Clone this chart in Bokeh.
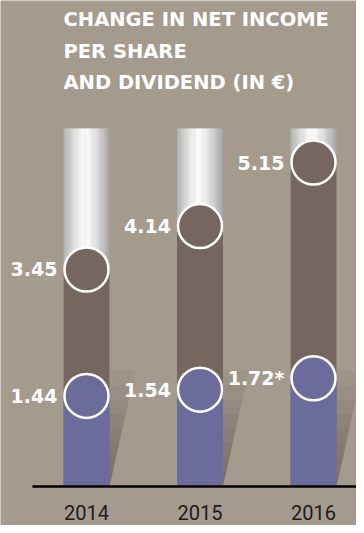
from bokeh.plotting import figure
from bokeh.models import Range1d, Label
from bokeh.core.properties import value
from bokeh.embed import file_html
from bokeh.resources import INLINE

# ---------------- data ----------------
YEARS = ["2014", "2015", "2016"]
NET_INCOME = [3.45, 4.14, 5.15]
DIVIDEND = [1.44, 1.54, 1.72]
NI_LABELS = ["3.45", "4.14", "5.15"]
DIV_LABELS = ["1.44", "1.54", "1.72*"]
TITLE_LINES = ["CHANGE IN NET INCOME", "PER SHARE", "AND DIVIDEND (IN \u20ac)"]

# ---------------- style / layout ----------------
W, H = 356, 525
BG = "#a49b8e"
BROWN = "#75675f"
PURPLE = "#6b6c9c"
PX_X = 113.5          # pixels per category step
FIRST_X_PX = 86       # pixel position of first category centre
PX_Y = 62.9           # pixels per euro
BASE_PX = 39          # baseline distance from figure bottom
BAR_W = 46 / PX_X
TRACK_TOP = 358 / PX_Y      # height of the grey "tube"
WEDGE_H = 116 / PX_Y
WEDGE_W = 26 / PX_X

xs = list(range(len(YEARS)))

p = figure(width=W, height=H, output_backend="svg", toolbar_location=None,
           x_range=Range1d(-FIRST_X_PX / PX_X, (W - FIRST_X_PX) / PX_X),
           y_range=Range1d(-BASE_PX / PX_Y, (H - BASE_PX) / PX_Y),
           min_border=0)
p.axis.visible = False
p.grid.visible = False
p.outline_line_color = None
p.background_fill_color = BG
p.border_fill_color = BG

# grey tube gradient (horizontal)
N = 40
left_s, right_s, top_s, col_s = [], [], [], []
for x in xs:
    l0 = x - BAR_W / 2
    step = BAR_W / N
    for k in range(N):
        t = (k + 0.5) / N
        d = min(1.0, abs(t - 0.47) / 0.53)
        lev = int(round(251 - (251 - 163) * d ** 1.4))
        left_s.append(l0 + k * step)
        right_s.append(min(l0 + (k + 1.4) * step, x + BAR_W / 2))
        top_s.append(TRACK_TOP)
        col_s.append("#%02x%02x%02x" % (lev, lev, lev))
p.quad(left=left_s, right=right_s, bottom=0, top=top_s, fill_color=col_s, line_color=None)

# net income bars
p.vbar(x=xs, width=BAR_W, bottom=0, top=NET_INCOME, fill_color=BROWN, line_color=None)

# shadow wedges right of dividend bars
wx, wy = [], []
M = 8
for x in xs:
    r = x + BAR_W / 2
    for k in range(M):
        hh = WEDGE_H * (k + 1) / M
        wx.append([r, r, r + WEDGE_W * hh / WEDGE_H])
        wy.append([0, hh, hh])
p.patches(xs=wx, ys=wy, fill_color="black", fill_alpha=0.035, line_color=None)

# dividend bars
p.vbar(x=xs, width=BAR_W, bottom=0, top=DIVIDEND, fill_color=PURPLE, line_color=None)

# baseline
p.segment(x0=[xs[0] - 0.476], y0=[0], x1=[xs[-1] + 0.6], y1=[0], line_color="black", line_width=2.5)

# circles
p.scatter(x=xs, y=NET_INCOME, size=44, fill_color=BROWN, line_color="white", line_width=2.5)
p.scatter(x=xs, y=DIVIDEND, size=44, fill_color=PURPLE, line_color="white", line_width=2.5)

# value labels
lab_font = value("DejaVu Sans")
p.text(x=xs, y=NET_INCOME, text=NI_LABELS, x_offset=-29, text_align="right",
       text_baseline="middle", text_color="white", text_font=lab_font,
       text_font_style="bold", text_font_size="19px")
p.text(x=xs, y=DIVIDEND, text=DIV_LABELS, x_offset=-29, text_align="right",
       text_baseline="middle", text_color="white", text_font=lab_font,
       text_font_style="bold", text_font_size="19px")

# year labels
p.text(x=xs, y=[0] * len(xs), text=YEARS, y_offset=26, text_align="center",
       text_baseline="middle", text_color="#1c1c1c", text_font=value("Roboto"),
       text_font_size="20px")

# title
for i, line in enumerate(TITLE_LINES):
    p.add_layout(Label(x=63, y=H - 19 - 31.5 * i, x_units="screen", y_units="screen",
                       text=line, text_align="left", text_baseline="alphabetic",
                       text_color="white", text_font="DejaVu Sans", text_font_style="bold",
                       text_font_size="19.5px"))

open("out.html", "w").write(file_html(p, INLINE))
